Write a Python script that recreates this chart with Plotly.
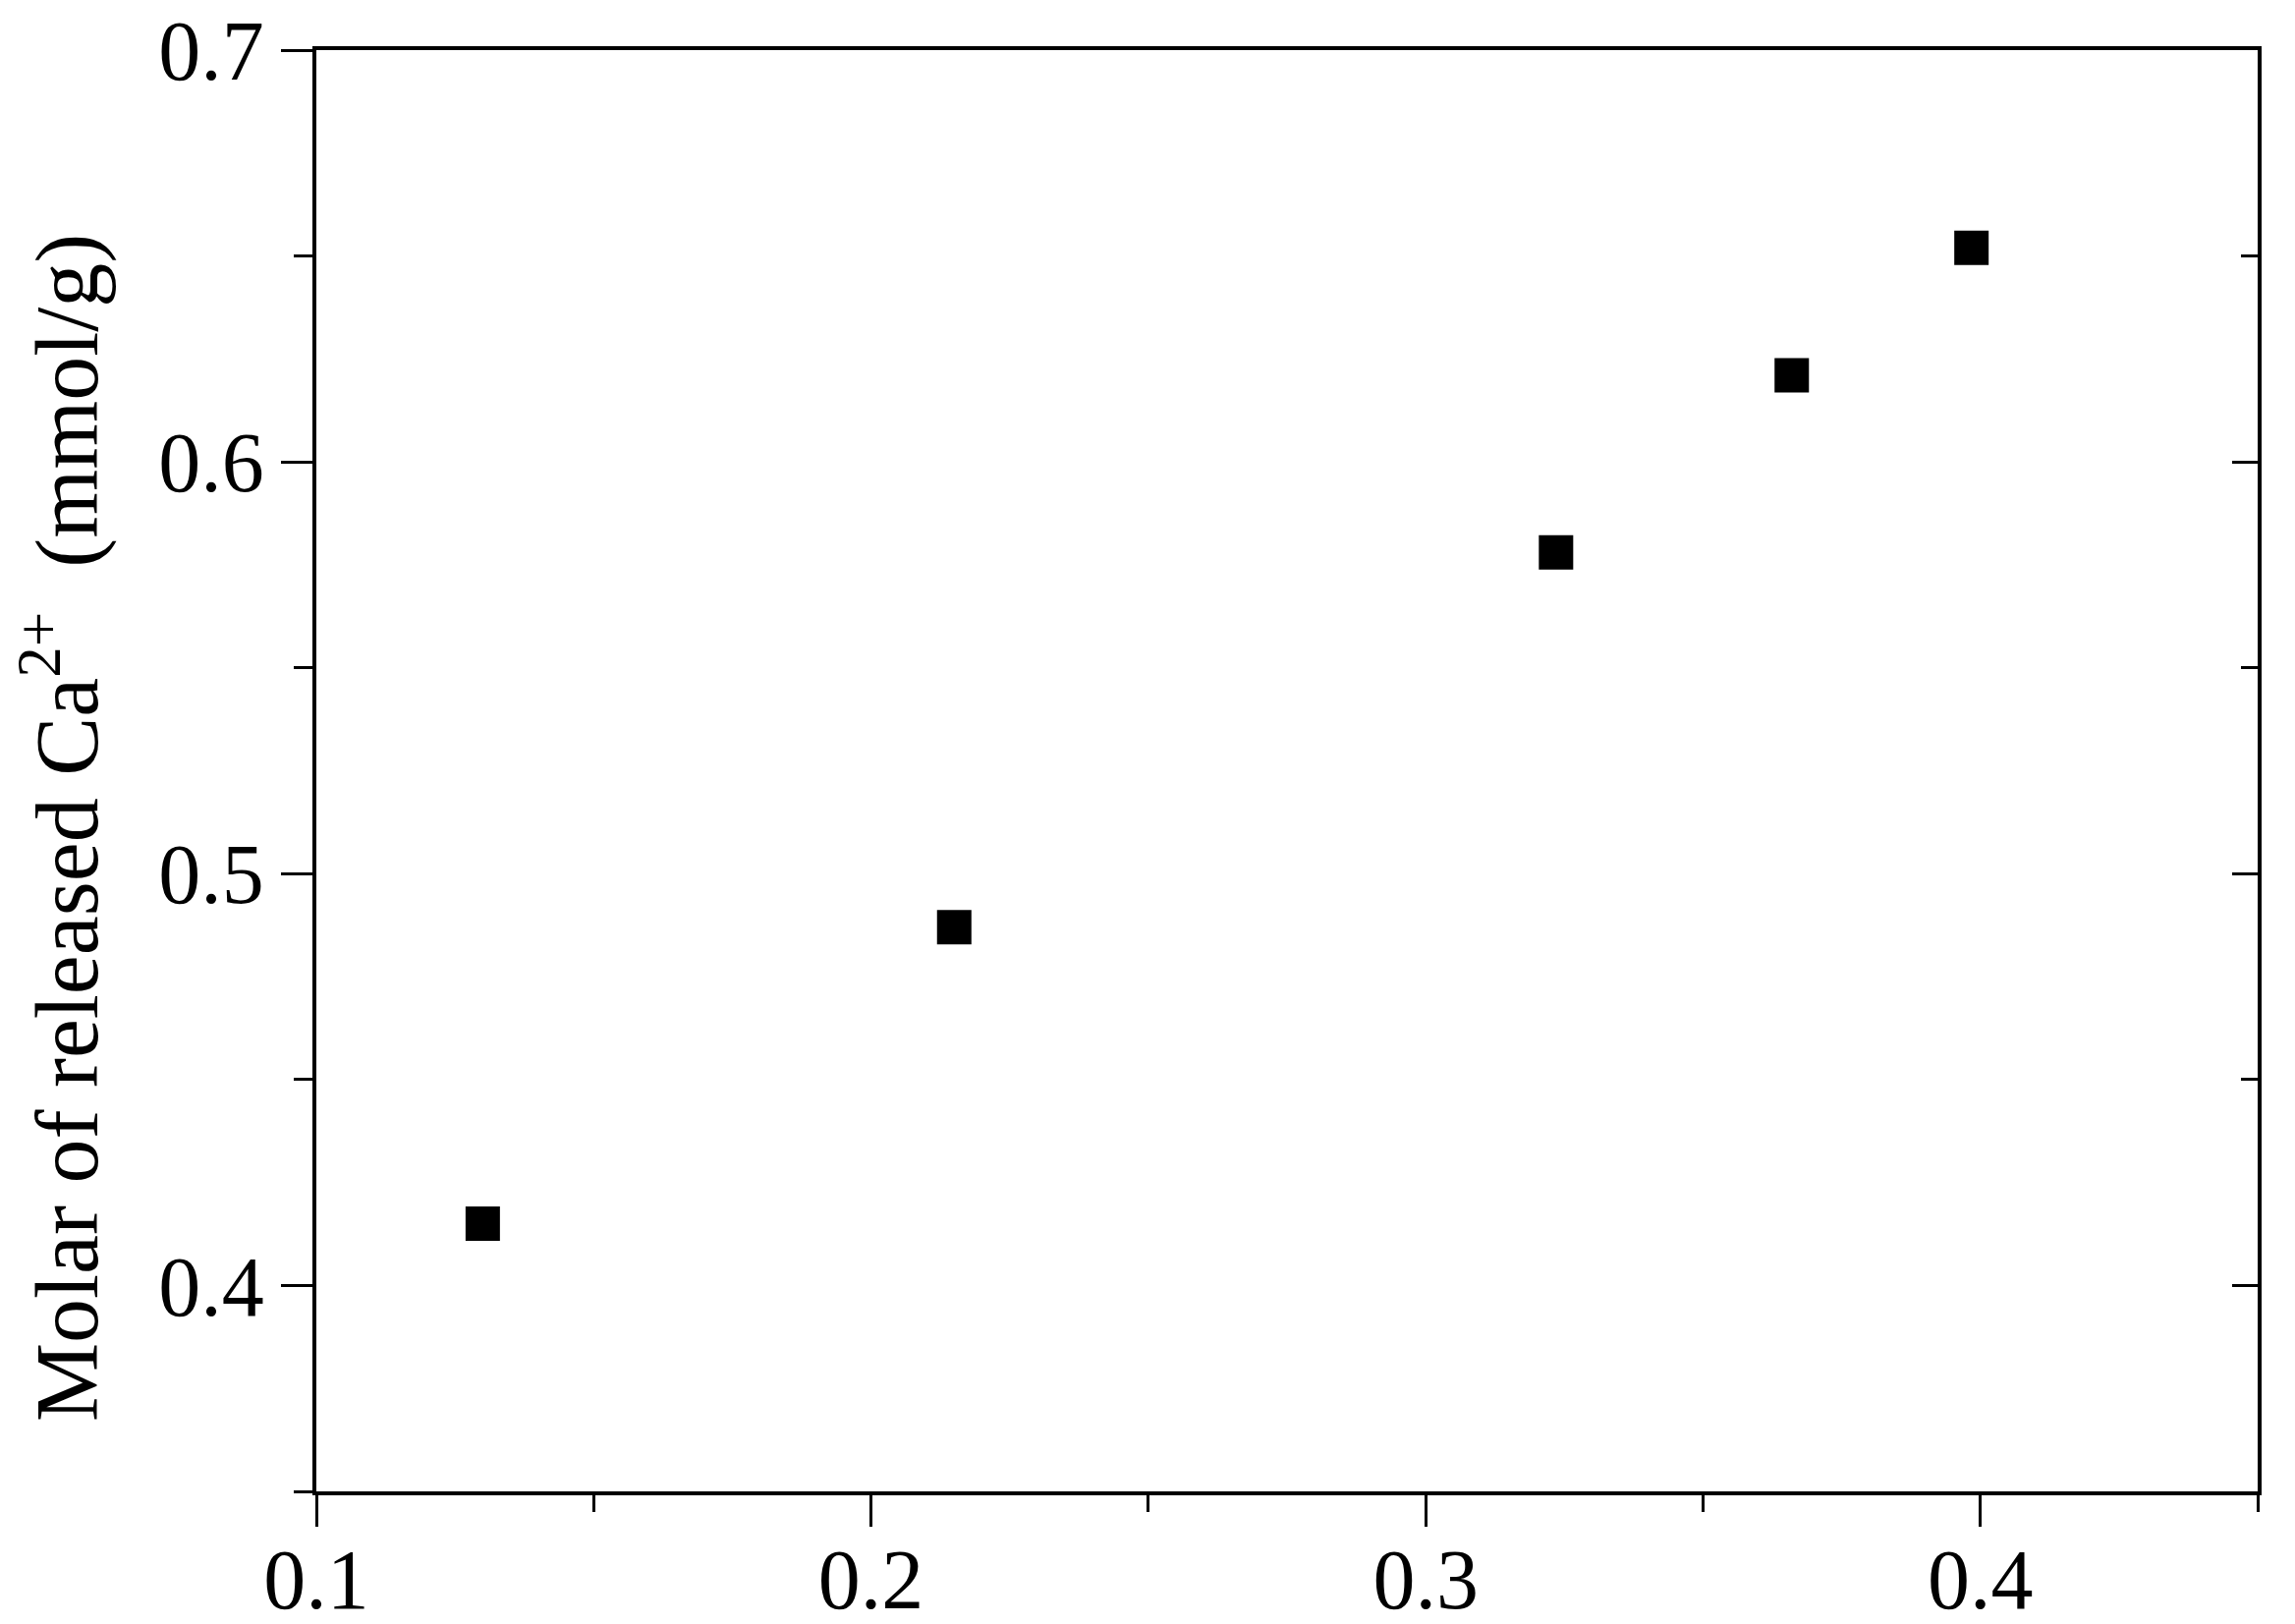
import plotly.graph_objects as go

# Data
x_vals = [0.130, 0.215, 0.3235, 0.366, 0.3984]
y_vals = [0.415, 0.487, 0.578, 0.621, 0.652]

x_ticks = [0.1, 0.2, 0.3, 0.4]
x_ticklabels = ["0.1", "0.2", "0.3", "0.4"]
y_ticks = [0.4, 0.5, 0.6, 0.7]
y_ticklabels = ["0.4", "0.5", "0.6", "0.7"]

y_title = "Molar of released Ca<sup>2+</sup>  (mmol/g)"

FONT = "Liberation Serif, Times New Roman, serif"

fig = go.Figure()
fig.add_trace(go.Scatter(
    x=x_vals, y=y_vals, mode="markers",
    marker=dict(symbol="square", size=35, color="black", line=dict(width=0)),
    showlegend=False,
))
# invisible trace for right axis with inward ticks
fig.add_trace(go.Scatter(x=[x_vals[0]], y=[y_vals[0]], yaxis="y2", mode="markers",
                         marker=dict(opacity=0), showlegend=False, hoverinfo="skip"))

fig.update_layout(
    width=2336, height=1653,
    margin=dict(l=322, r=38, t=51, b=135, autoexpand=False),
    paper_bgcolor="white", plot_bgcolor="white",
    font=dict(family=FONT, color="black", size=86),
    xaxis=dict(
        range=[0.1, 0.45], tickvals=x_ticks, ticktext=x_ticklabels,
        showgrid=False, zeroline=False, automargin=False,
        showline=True, linewidth=4, linecolor="black", mirror=True,
        ticks="outside", ticklen=32, tickwidth=3, tickcolor="black",
        minor=dict(dtick=0.05, tick0=0.1, ticks="outside", ticklen=17, tickwidth=3,
                   tickcolor="black", showgrid=False),
        tickfont=dict(size=86, family=FONT),
        ticklabelstandoff=-20,
    ),
    yaxis=dict(
        range=[0.35, 0.7], tickvals=y_ticks, ticktext=y_ticklabels,
        showgrid=False, zeroline=False, automargin=False,
        showline=True, linewidth=4, linecolor="black", mirror=True,
        ticks="outside", ticklen=32, tickwidth=3, tickcolor="black",
        minor=dict(dtick=0.05, tick0=0.35, ticks="outside", ticklen=19, tickwidth=3,
                   tickcolor="black", showgrid=False),
        tickfont=dict(size=86, family=FONT),
    ),
    yaxis2=dict(
        overlaying="y", side="right", range=[0.35, 0.7], tickvals=y_ticks,
        showticklabels=False, showgrid=False, zeroline=False, showline=False,
        automargin=False,
        ticks="inside", ticklen=26, tickwidth=3, tickcolor="black",
        minor=dict(dtick=0.05, tick0=0.35, ticks="inside", ticklen=17, tickwidth=3,
                   tickcolor="black", showgrid=False),
    ),
    annotations=[dict(
        text=y_title, textangle=-90, xref="paper", yref="paper",
        x=-0.1316, y=0.4608, xanchor="center", yanchor="middle",
        showarrow=False, font=dict(size=90, family=FONT, color="black"),
    )],
)

fig.write_html(
    "out.html",
    config={"displayModeBar": False},
    post_script="document.body.style.margin='0';document.body.style.overflow='hidden';",
)
